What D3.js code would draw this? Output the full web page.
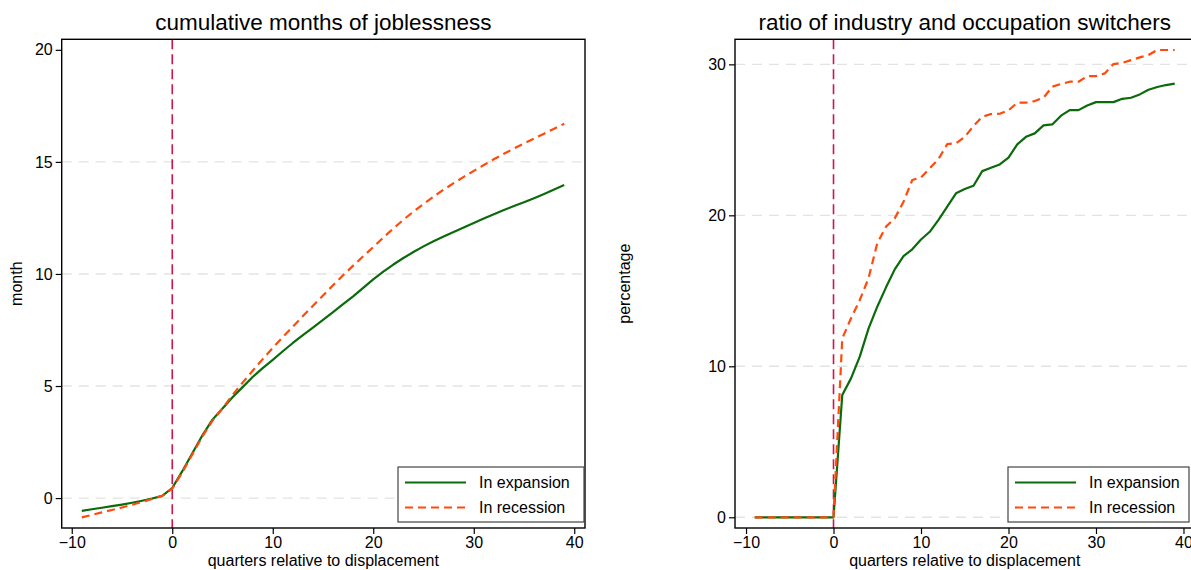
<!DOCTYPE html>
<html>
<head>
<meta charset="utf-8">
<script src="https://cdn.jsdelivr.net/npm/d3@7/dist/d3.min.js"></script>
<style>
  body { margin: 0; background: #fff; }
  svg { display: block; font-family: "Liberation Sans", Arial, sans-serif; }
  .title { font-size: 22.5px; fill: #000; text-anchor: middle; }
  .axis-title { font-size: 16px; fill: #000; text-anchor: middle; }
  .axis text { font-size: 16px; fill: #000; font-family: "Liberation Sans", Arial, sans-serif; }
  .axis path.domain { display: none; }
  .axis line { stroke: #000; stroke-width: 1.2; }
  .grid line { stroke: #e3e3e3; stroke-width: 1.4; stroke-dasharray: 10,7; }
  .frame { fill: none; stroke: #000; stroke-width: 1.4; }
  .zero-line { stroke: #d0144a; stroke-width: 1.6; stroke-dasharray: 10,5; }
  .series { fill: none; stroke-width: 2.2; stroke-linejoin: round; }
  .expansion { stroke: #0b6a0b; }
  .recession { stroke: #ff4a0a; stroke-dasharray: 8,5; }
  .legend-box { fill: #fff; stroke: #444; stroke-width: 1.2; }
  .legend text { font-size: 16px; fill: #000; }
</style>
</head>
<body>
<svg id="chart" width="1191" height="570"></svg>
<script>
// quarters relative to displacement
var quarters = [-9, -8, -7, -6, -5, -4, -3, -2, -1, 0,
  1, 2, 3, 4, 5, 6, 7, 8, 9, 10, 11, 12, 13, 14, 15, 16, 17, 18, 19, 20,
  21, 22, 23, 24, 25, 26, 27, 28, 29, 30, 31, 32, 33, 34, 35, 36, 37, 38, 39];

// cumulative months of joblessness
var jobExpansion = [-0.57, -0.50, -0.43, -0.36, -0.29, -0.21, -0.12, -0.02, 0.10, 0.45,
  1.2, 2.0, 2.8, 3.5, 4.0, 4.5, 4.95, 5.4, 5.8, 6.17, 6.55, 6.92, 7.27, 7.61, 7.95,
  8.3, 8.65, 9.0, 9.38, 9.76, 10.1, 10.42, 10.71, 10.98, 11.23, 11.46, 11.67, 11.87, 12.07,
  12.27, 12.47, 12.66, 12.85, 13.03, 13.2, 13.38, 13.57, 13.77, 13.97];
var jobRecession = [-0.86, -0.75, -0.64, -0.53, -0.42, -0.30, -0.17, -0.04, 0.10, 0.42,
  1.15, 1.95, 2.75, 3.45, 4.0, 4.6, 5.15, 5.68, 6.2, 6.7, 7.18, 7.65, 8.12, 8.58, 9.04,
  9.5, 9.94, 10.37, 10.79, 11.2, 11.62, 12.03, 12.42, 12.78, 13.12, 13.45, 13.76, 14.05, 14.33,
  14.6, 14.86, 15.12, 15.36, 15.6, 15.82, 16.04, 16.26, 16.48, 16.7];

// ratio of industry and occupation switchers (percent)
var switchExpansion = [0, 0, 0, 0, 0, 0, 0, 0, 0, 0,
  8.1, 9.2, 10.64, 12.5, 13.95, 15.23, 16.42, 17.3, 17.75, 18.4, 18.91, 19.7, 20.57, 21.46, 21.74,
  21.96, 22.93, 23.15, 23.37, 23.82, 24.7, 25.2, 25.43, 25.96, 26.02, 26.6, 26.97, 26.97, 27.28,
  27.5, 27.5, 27.5, 27.72, 27.79, 28.01, 28.32, 28.5, 28.63, 28.72];
var switchRecession = [0, 0, 0, 0, 0, 0, 0, 0, 0, 0,
  11.85, 13.18, 14.39, 15.83, 18.15, 19.25, 19.8, 20.9, 22.34, 22.51, 23.11, 23.73, 24.72, 24.77, 25.2,
  25.91, 26.53, 26.71, 26.73, 26.95, 27.46, 27.46, 27.57, 27.79, 28.52, 28.7, 28.85, 28.85, 29.22,
  29.22, 29.4, 30.02, 30.1, 30.28, 30.46, 30.62, 30.95, 30.95, 30.95];

var xTicks = [-10, 0, 10, 20, 30, 40];
var jobTicks = [0, 5, 10, 15, 20];
var jobGrid = [0, 5, 10, 15];
var switchTicks = [0, 10, 20, 30];
var switchGrid = [0, 10, 20, 30];
var legendLabels = ["In expansion", "In recession"];

var fmtTick = d => (d < 0 ? "\u2212" + Math.abs(d) : String(d));

var svg = d3.select("#chart");

// Draw one Stata-style panel.
function drawPanel(config) {
  var { box, xDomain, yDomain } = config;

  var xScale = d3.scaleLinear().domain(xDomain).range([box.left, box.right]);
  var yScale = d3.scaleLinear().domain(yDomain).range([box.bottom, box.top]);

  var panel = svg.append("g").attr("class", "panel");

  // grid
  panel
    .append("g")
    .attr("class", "grid")
    .selectAll("line")
    .data(config.grid)
    .enter()
    .append("line")
    .attr("x1", box.left)
    .attr("x2", box.right)
    .attr("y1", d => yScale(d))
    .attr("y2", d => yScale(d));

  // axes
  var yAxis = d3
    .axisLeft(yScale)
    .tickValues(config.yTicks)
    .tickSize(6)
    .tickPadding(3)
    .tickFormat(fmtTick);

  var xAxis = d3
    .axisBottom(xScale)
    .tickValues(xTicks)
    .tickSize(6)
    .tickPadding(3)
    .tickFormat(fmtTick);

  panel
    .append("g")
    .attr("class", "y axis")
    .attr("transform", `translate(${box.left},0)`)
    .call(yAxis);

  panel
    .append("g")
    .attr("class", "x axis")
    .attr("transform", `translate(0,${box.bottom})`)
    .call(xAxis);

  // vertical line at displacement
  panel
    .append("line")
    .attr("class", "zero-line")
    .attr("x1", xScale(0))
    .attr("x2", xScale(0))
    .attr("y1", box.top)
    .attr("y2", box.bottom);

  var line = d3
    .line()
    .x((d, i) => xScale(quarters[i]))
    .y(d => yScale(d));

  panel
    .append("path")
    .attr("class", "series expansion")
    .attr("d", line(config.expansion));

  panel
    .append("path")
    .attr("class", "series recession")
    .attr("d", line(config.recession));

  // frame
  panel
    .append("rect")
    .attr("class", "frame")
    .attr("x", box.left)
    .attr("y", box.top)
    .attr("width", box.right - box.left)
    .attr("height", box.bottom - box.top);

  // titles
  panel
    .append("text")
    .attr("class", "title")
    .attr("x", (box.left + box.right) / 2)
    .attr("y", 29.5)
    .text(config.title);

  panel
    .append("text")
    .attr("class", "axis-title")
    .attr("x", (box.left + box.right) / 2)
    .attr("y", 566)
    .text("quarters relative to displacement");

  panel
    .append("text")
    .attr("class", "axis-title")
    .attr("transform", `translate(${config.yTitleX},${(box.top + box.bottom) / 2}) rotate(-90)`)
    .text(config.yTitle);

  // legend
  var lg = config.legend;
  var legend = panel.append("g").attr("class", "legend");
  legend
    .append("rect")
    .attr("class", "legend-box")
    .attr("x", lg.left)
    .attr("y", lg.top)
    .attr("width", lg.right - lg.left)
    .attr("height", lg.bottom - lg.top);

  var rows = legend
    .selectAll("g.row")
    .data(legendLabels)
    .enter()
    .append("g")
    .attr("class", "row")
    .attr("transform", (d, i) => `translate(0,${lg.top + 15.5 + i * 25})`);

  rows
    .append("line")
    .attr("class", (d, i) => "series " + (i === 0 ? "expansion" : "recession"))
    .attr("x1", lg.left + 7)
    .attr("x2", lg.left + 68);

  rows
    .append("text")
    .attr("x", lg.left + 81)
    .attr("y", 5.8)
    .text(d => d);
}

drawPanel({
  title: "cumulative months of joblessness",
  yTitle: "month",
  yTitleX: 22,
  box: { left: 61.7, right: 585, top: 39.3, bottom: 528 },
  xDomain: [-11, 41.07],
  yDomain: [-1.335, 20.47],
  yTicks: jobTicks,
  grid: jobGrid,
  expansion: jobExpansion,
  recession: jobRecession,
  legend: { left: 398, right: 584, top: 467, bottom: 522 },
});

drawPanel({
  title: "ratio of industry and occupation switchers",
  yTitle: "percentage",
  yTitleX: 630,
  box: { left: 735, right: 1194.5, top: 39.3, bottom: 528 },
  xDomain: [-11.26, 41.26],
  yDomain: [-0.71, 31.66],
  yTicks: switchTicks,
  grid: switchGrid,
  expansion: switchExpansion,
  recession: switchRecession,
  legend: { left: 1008, right: 1189, top: 467, bottom: 522 },
});
</script>
</body>
</html>
